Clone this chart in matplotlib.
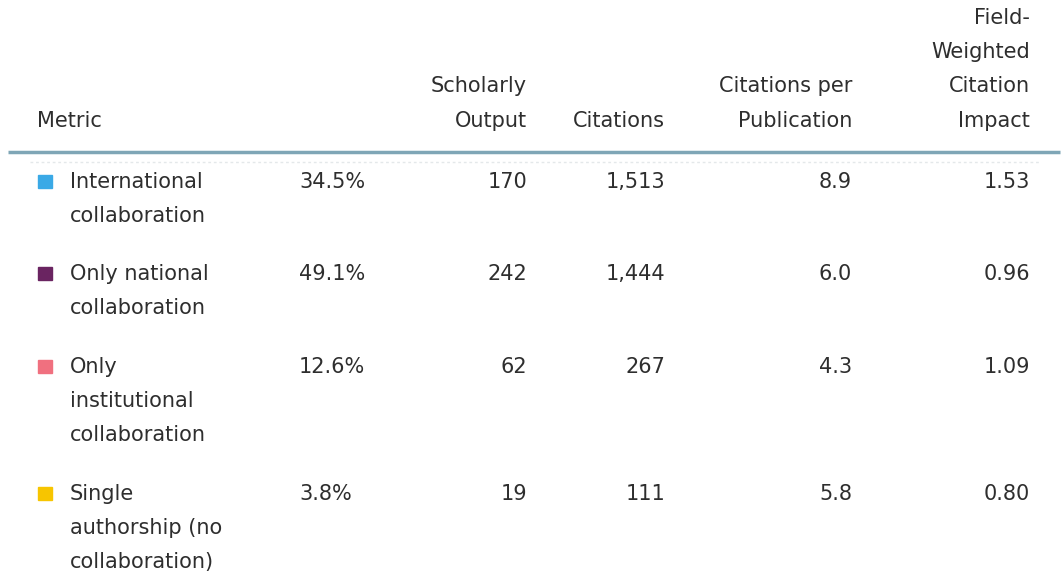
import matplotlib.pyplot as plt

plt.rcParams['font.family'] = ['DejaVu Sans']

# table content
metrics = ['International\ncollaboration',
           'Only national\ncollaboration',
           'Only\ninstitutional\ncollaboration',
           'Single\nauthorship (no\ncollaboration)']
colors = ['#3aa9e6', '#6a2461', '#f0707f', '#f7c500']
shares = ['34.5%', '49.1%', '12.6%', '3.8%']
scholarly_output = [170, 242, 62, 19]
citations = [1513, 1444, 267, 111]
cites_per_pub = [8.9, 6.0, 4.3, 5.8]
fwci = [1.53, 0.96, 1.09, 0.80]

headers = ['Scholarly\nOutput', 'Citations', 'Citations per\nPublication',
           'Field-\nWeighted\nCitation\nImpact']

TEXT = '#2e2e2e'
FS = 15
LINE = 34.5

fig = plt.figure(figsize=(10.63, 5.79), dpi=100)
ax = fig.add_axes([0, 0, 1, 1])
ax.set_xlim(0, 1063)
ax.set_ylim(579, 0)
ax.axis('off')

# header, bottom lines aligned
head_bottom = 121
ax.text(37, head_bottom, 'Metric', ha='left', va='center',
        fontsize=FS, color=TEXT)
col_right = [527, 665, 852, 1030]
for x, h in zip(col_right, headers):
    lines = h.split('\n')
    for k, ln in enumerate(reversed(lines)):
        ax.text(x, head_bottom - k * LINE, ln, ha='right', va='center',
                fontsize=FS, color=TEXT)

ax.plot([8, 1060], [152, 152], color='#7fa6b6', lw=2.5,
        solid_capstyle='butt')
ax.plot([30, 1040], [162, 162], color='#e4e8ea', lw=1, ls=(0, (2, 2)))

row_top = [182, 274, 367, 494]
for i, y in enumerate(row_top):
    ax.add_patch(plt.Rectangle((38, y - 7), 14, 13, color=colors[i]))
    for k, ln in enumerate(metrics[i].split('\n')):
        ax.text(70, y + k * LINE * 0.98, ln, ha='left', va='center',
                fontsize=FS, color=TEXT)
    ax.text(299, y, shares[i], ha='left', va='center', fontsize=FS,
            color=TEXT)
    vals = [str(scholarly_output[i]), f'{citations[i]:,}',
            f'{cites_per_pub[i]:.1f}', f'{fwci[i]:.2f}']
    for x, v in zip(col_right, vals):
        ax.text(x, y, v, ha='right', va='center', fontsize=FS, color=TEXT)

fig.savefig('out.png', dpi=100, facecolor='white')
